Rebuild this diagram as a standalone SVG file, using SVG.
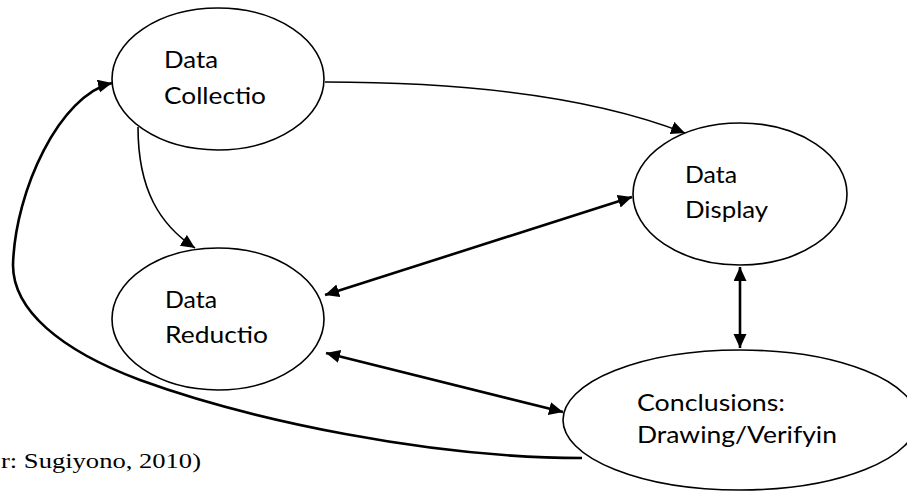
<svg xmlns="http://www.w3.org/2000/svg" width="907" height="492" viewBox="0 0 907 492">
<style>
.node ellipse{fill:#fff;stroke:#000;stroke-width:1.6}
.lbl{font-family:Lato,"Open Sans","Liberation Sans",sans-serif;font-size:24px;fill:#000}
.thin{fill:none;stroke:#000;stroke-width:1.6}
.thick{fill:none;stroke:#000;stroke-width:2.6}
.cap{font-family:"Liberation Serif","Times New Roman",serif;font-size:22px;fill:#000}
</style>
<defs>
<marker id="ah" markerUnits="userSpaceOnUse" markerWidth="16" markerHeight="14" refX="14" refY="6.5" orient="auto-start-reverse" viewBox="0 0 16 14">
<path d="M0,0 L14,6.5 L0,13 Z" fill="#000"/>
</marker>
</defs>
<rect width="907" height="492" fill="#fff"/>
<g id="nodes">
<g id="data-collection" class="node">
<ellipse cx="218" cy="79" rx="106" ry="71"/>
<text class="lbl" x="164" y="68" textLength="54" lengthAdjust="spacingAndGlyphs">Data</text>
<text class="lbl" x="164" y="104" textLength="102" lengthAdjust="spacingAndGlyphs">Collectio</text>
</g>
<g id="data-display" class="node">
<ellipse cx="740" cy="194" rx="107" ry="71"/>
<text class="lbl" x="685" y="183" textLength="52" lengthAdjust="spacingAndGlyphs">Data</text>
<text class="lbl" x="685" y="218" textLength="83" lengthAdjust="spacingAndGlyphs">Display</text>
</g>
<g id="data-reduction" class="node">
<ellipse cx="218" cy="319" rx="106" ry="71"/>
<text class="lbl" x="165" y="308" textLength="52" lengthAdjust="spacingAndGlyphs">Data</text>
<text class="lbl" x="165" y="343" textLength="103" lengthAdjust="spacingAndGlyphs">Reductio</text>
</g>
<g id="conclusions" class="node">
<ellipse cx="740" cy="420" rx="177" ry="70"/>
<text class="lbl" x="637" y="411" textLength="148" lengthAdjust="spacingAndGlyphs">Conclusions:</text>
<text class="lbl" x="637" y="443" textLength="200" lengthAdjust="spacingAndGlyphs">Drawing/Verifyin</text>
</g>
</g>
<g id="connectors">
<path class="thin" d="M325,82 C480,82 600,100 685,133" marker-end="url(#ah)"/>
<path class="thin" d="M138,127 C138,190 160,225 195,248" marker-end="url(#ah)"/>
<path class="thick" d="M325,295 L632,197" marker-start="url(#ah)" marker-end="url(#ah)"/>
<path class="thick" d="M326,353 L563,412" marker-start="url(#ah)" marker-end="url(#ah)"/>
<path class="thick" d="M740,267 L740,348" marker-start="url(#ah)" marker-end="url(#ah)"/>
<path class="thick" d="M582,458 C430,458 250,420 140,380 C60,350 13,310 13,265 C15,190 60,95 112,83" marker-end="url(#ah)"/>
</g>
<text class="cap" x="1" y="468" textLength="200" lengthAdjust="spacingAndGlyphs">r: Sugiyono, 2010)</text>
</svg>
